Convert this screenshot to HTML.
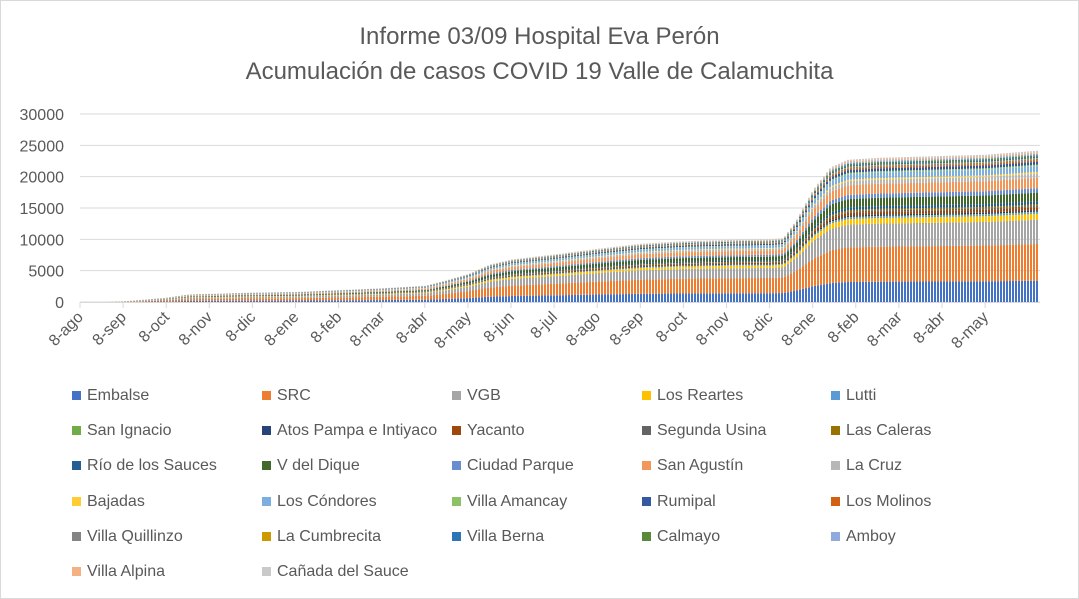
<!DOCTYPE html>
<html><head><meta charset="utf-8"><style>
body{margin:0;background:#fff;width:1079px;height:599px;overflow:hidden;font-family:"Liberation Sans",sans-serif}
.t{position:absolute;left:0;width:1079px;text-align:center;color:#595959;font-size:24px}
.lg{position:absolute;font-size:16px;color:#595959;white-space:nowrap;line-height:18px}
.lg i{display:inline-block;width:9px;height:9px;margin-right:6px;vertical-align:0px}
</style></head><body>
<div style="position:absolute;left:0;top:0;width:1077px;height:597px;border:1px solid #d9d9d9"></div>
<div class="t" style="top:23px">Informe 03/09 Hospital Eva Perón</div>
<div class="t" style="top:58px">Acumulación de casos COVID 19 Valle de Calamuchita</div>
<svg id="s" width="1079" height="599" style="position:absolute;left:0;top:0" font-family="Liberation Sans, sans-serif"></svg>
<div id="leg"></div>
<script>
const names=["Embalse","SRC","VGB","Los Reartes","Lutti","San Ignacio","Atos Pampa e Intiyaco","Yacanto","Segunda Usina","Las Caleras","Río de los Sauces","V del Dique","Ciudad Parque","San Agustín","La Cruz","Bajadas","Los Cóndores","Villa Amancay","Rumipal","Los Molinos","Villa Quillinzo","La Cumbrecita","Villa Berna","Calmayo","Amboy","Villa Alpina","Cañada del Sauce"];
const cols=["#4472C4","#ED7D31","#A5A5A5","#FFC000","#5B9BD5","#70AD47","#264478","#9E480E","#636363","#997300","#255E91","#43682B","#698ED0","#F1975A","#B7B7B7","#FFCD33","#7CAFDD","#8CC168","#335AA1","#D26012","#848484","#CC9A00","#2E75B6","#5A8A39","#8FAADC","#F4B183","#C9C9C9"];
const fr=[.145,.25,.165,.04,.01,.005,.01,.02,.01,.01,.02,.06,.03,.07,.03,.01,.04,.01,.02,.01,.01,.005,.01,.01,.01,.01,.01];
const fs=fr.reduce((a,b)=>a+b,0);
let svg='';
const y0=302,sc=188/30000;
for(let i=0;i<=6;i++){const y=y0-i*5000*sc;svg+=`<line x1="80" x2="1040" y1="${y}" y2="${y}" stroke="#d9d9d9" stroke-width="1"/>`;svg+=`<text x="64" y="${y+6}" text-anchor="end" font-size="16" fill="#595959">${i*5000}</text>`;}
const pts=[[0,0],[0.6,0],[1,100],[1.5,400],[2,700],[2.5,1200],[3,1300],[4,1500],[5,1600],[6,1900],[7,2200],[8,2600],[8.5,3500],[9,4500],[9.5,6000],[10,6800],[11,7600],[12,8500],[13,9300],[14,9700],[15,9900],[16,10000],[16.3,10200],[16.6,13000],[17,18000],[17.4,21500],[17.8,22700],[18.5,23000],[20,23300],[21,23500],[22.3,24200]];
function tot(m){for(let i=1;i<pts.length;i++){if(m<=pts[i][0]){const [a,b]=pts[i-1],[c,d]=pts[i];return b+(d-b)*(m-a)/(c-a);}}return 24200;}
const pm=43.1;
for(let x=82;x<1039;x+=3){const T=tot((x-80)/pm);if(T<=0)continue;let y=y0;for(let k=0;k<names.length;k++){const h=T*fr[k]/fs*sc;svg+=`<rect x="${x}" y="${(y-h).toFixed(2)}" width="2" height="${h.toFixed(2)}" fill="${cols[k]}"/>`;y-=h;}}
svg+=`<line x1="80" x2="1040" y1="302.5" y2="302.5" stroke="#d9d9d9"/>`;
const mon=["ago","sep","oct","nov","dic","ene","feb","mar","abr","may","jun","jul","ago","sep","oct","nov","dic","ene","feb","mar","abr","may"];
mon.forEach((m,i)=>{const x=80+i*pm;svg+=`<line x1="${x}" x2="${x}" y1="302" y2="308" stroke="#d9d9d9"/>`;svg+=`<text transform="translate(${x+4},${318}) rotate(-45)" text-anchor="end" font-size="16" fill="#595959">8-${m}</text>`;});
document.getElementById('s').innerHTML=svg;
let lg='';const cx=[72,262,452,642,831],ry=[395,430,465,501,536,571];
names.forEach((n,i)=>{lg+=`<div class="lg" style="left:${cx[i%5]}px;top:${ry[Math.floor(i/5)]-8}px"><i style="background:${cols[i]}"></i>${n}</div>`;});
document.getElementById('leg').innerHTML=lg;
</script>
</body></html>
